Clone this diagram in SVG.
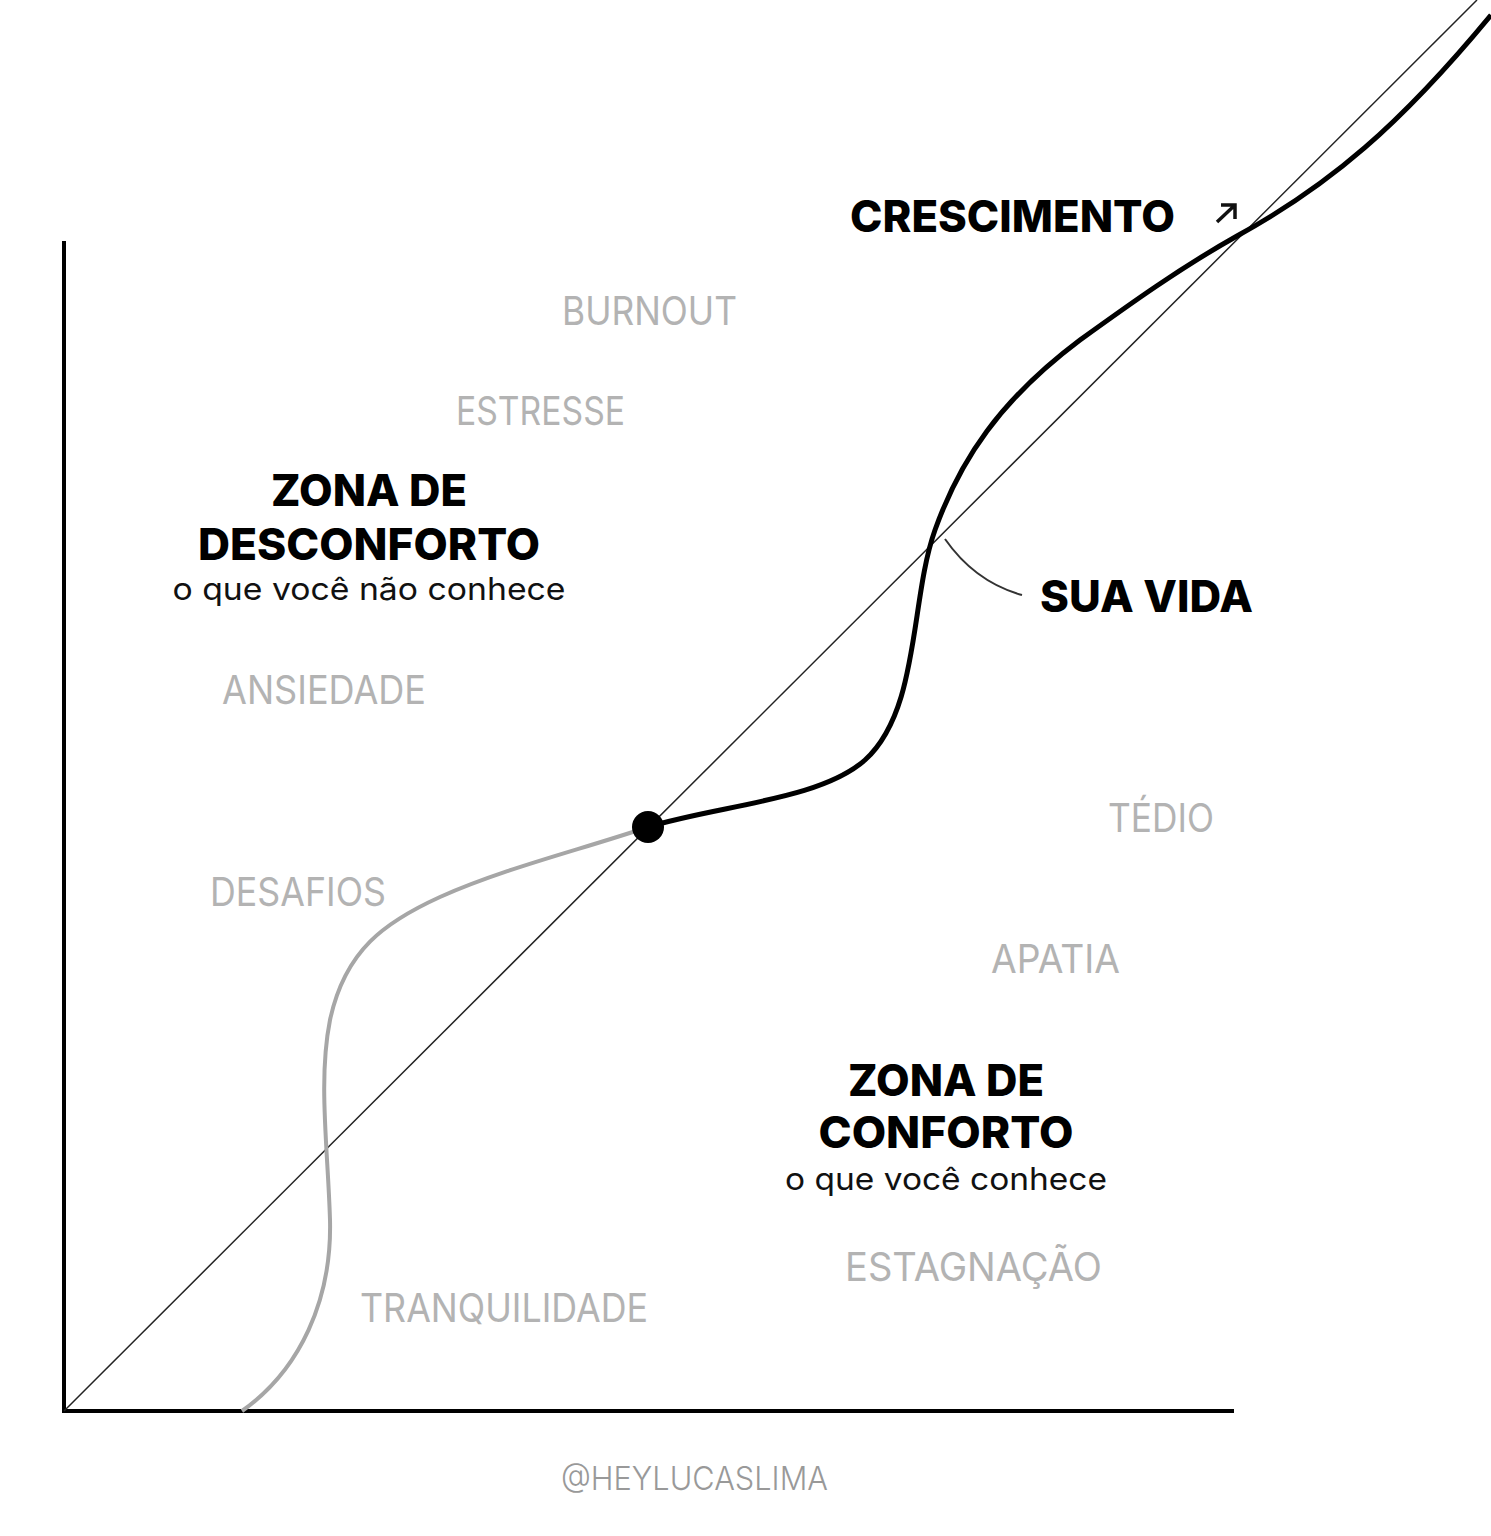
<svg xmlns="http://www.w3.org/2000/svg" width="1491" height="1536" viewBox="0 0 1491 1536">
<style>
.bold{font-family:Inter,"Noto Sans",sans-serif;font-weight:800;fill:#000;font-size:44px}
.sub{font-family:Inter,"Noto Sans",sans-serif;font-weight:400;fill:#111;font-size:31px}
.gray{font-family:Inter,"Noto Sans",sans-serif;font-weight:400;fill:#b3b3b3;font-size:39px}
.foot{font-family:Inter,"Noto Sans",sans-serif;font-weight:300;fill:#999;font-size:33px}
</style>
<rect width="1491" height="1536" fill="#fff"/>
<g id="axes" stroke="#000" stroke-width="4" fill="none">
<line x1="64" y1="241" x2="64" y2="1413"/>
<line x1="62" y1="1411" x2="1234" y2="1411"/>
</g>
<g id="connectors" fill="none">
<line x1="64" y1="1411" x2="1477" y2="0" stroke="#222" stroke-width="1.5"/>
<path d="M242,1411 C300,1370 332,1300 330,1220 C328,1150 318,1080 330,1020 C345,950 385,922 440,897 C505,868 580,850 648,827" stroke="#a6a6a6" stroke-width="4"/>
<path d="M648,827 C720,805 820,800 865,760 C920,710 910,600 935,530 C960,460 1000,400 1080,340 C1130,304 1180,268 1237,236 C1330,185 1400,125 1491,15" stroke="#000" stroke-width="5"/>
<path d="M945,539 Q975,582 1022,595" stroke="#333" stroke-width="2"/>
<path d="M1217,222 L1235,205 M1221,205 L1235,205 L1235,219" stroke="#111" stroke-width="3.5"/>
</g>
<g id="dot"><circle cx="648" cy="827" r="16" fill="#000"/></g>
<g id="crescimento"><text class="bold" x="850" y="232" textLength="325" lengthAdjust="spacingAndGlyphs">CRESCIMENTO</text></g>
<g id="sua-vida"><text class="bold" x="1040" y="612" textLength="213" lengthAdjust="spacingAndGlyphs">SUA VIDA</text></g>
<g id="zona-desconforto">
<text class="bold" x="369" y="506" text-anchor="middle" textLength="196" lengthAdjust="spacingAndGlyphs">ZONA DE</text>
<text class="bold" x="369" y="560" text-anchor="middle" textLength="342" lengthAdjust="spacingAndGlyphs">DESCONFORTO</text>
<text class="sub" x="369" y="600" text-anchor="middle" textLength="393" lengthAdjust="spacingAndGlyphs">o que você não conhece</text>
</g>
<g id="zona-conforto">
<text class="bold" x="946" y="1096" text-anchor="middle" textLength="196" lengthAdjust="spacingAndGlyphs">ZONA DE</text>
<text class="bold" x="946" y="1148" text-anchor="middle" textLength="255" lengthAdjust="spacingAndGlyphs">CONFORTO</text>
<text class="sub" x="946" y="1190" text-anchor="middle" textLength="322" lengthAdjust="spacingAndGlyphs">o que você conhece</text>
</g>
<g id="labels">
<text class="gray" x="562" y="325" textLength="175" lengthAdjust="spacingAndGlyphs">BURNOUT</text>
<text class="gray" x="456" y="425" textLength="169" lengthAdjust="spacingAndGlyphs">ESTRESSE</text>
<text class="gray" x="222" y="704" textLength="204" lengthAdjust="spacingAndGlyphs">ANSIEDADE</text>
<text class="gray" x="1108" y="832" textLength="106" lengthAdjust="spacingAndGlyphs">TÉDIO</text>
<text class="gray" x="210" y="906" textLength="176" lengthAdjust="spacingAndGlyphs">DESAFIOS</text>
<text class="gray" x="991" y="973" textLength="129" lengthAdjust="spacingAndGlyphs">APATIA</text>
<text class="gray" x="845" y="1281" textLength="257" lengthAdjust="spacingAndGlyphs">ESTAGNAÇÃO</text>
<text class="gray" x="360" y="1322" textLength="288" lengthAdjust="spacingAndGlyphs">TRANQUILIDADE</text>
</g>
<g id="footer"><text class="foot" x="561" y="1490" textLength="267" lengthAdjust="spacingAndGlyphs">@HEYLUCASLIMA</text></g>
</svg>
